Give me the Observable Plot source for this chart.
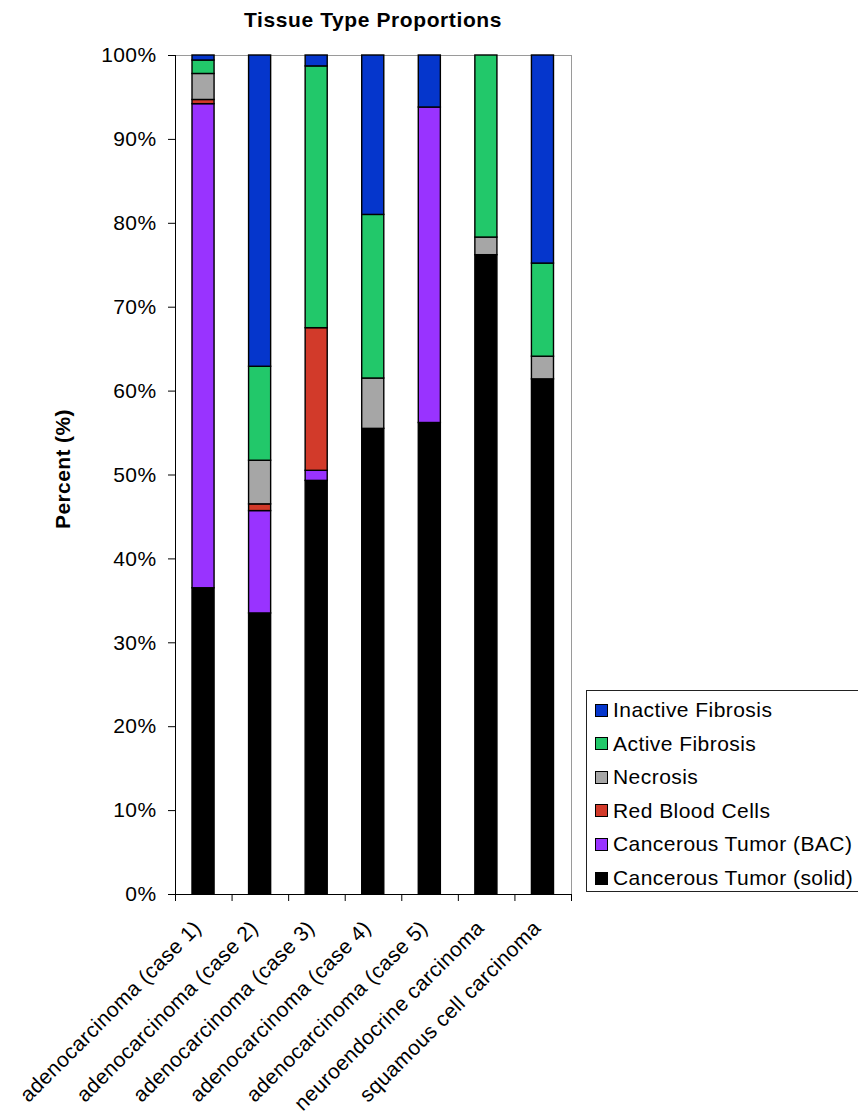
<!DOCTYPE html>
<html>
<head>
<meta charset="utf-8">
<script src="https://cdn.jsdelivr.net/npm/d3@7"></script>
<script src="https://cdn.jsdelivr.net/npm/@observablehq/plot@0.6"></script>
<style>
  html, body { margin: 0; padding: 0; background: #fff; }
  #wrap { position: relative; width: 858px; height: 1114px; font-family: "Liberation Sans", Arial, sans-serif; }
  #title { position: absolute; top: 8px; left: 373px; transform: translateX(-50%); font-weight: bold; font-size: 21px; letter-spacing: 0.6px; white-space: nowrap; color: #000; }
  #legend { position: absolute; left: 586px; top: 690px; width: 272px; height: 202px; box-sizing: border-box; border: 1px solid #222; border-right: none; background: #fff; }
  .li { position: absolute; left: 8px; height: 24px; display: flex; align-items: center; font-size: 21px; letter-spacing: 0.45px; color: #000; white-space: nowrap; }
  .sw { width: 13px; height: 13px; box-sizing: border-box; border: 1px solid #000; margin-right: 5px; }
  svg text { letter-spacing: 0.4px; }
</style>
</head>
<body>
<div id="wrap">
  <div id="title">Tissue Type Proportions</div>
  <div id="chart"></div>
  <div id="legend"></div>
</div>
<script>
const categories = [
  "adenocarcinoma (case 1)",
  "adenocarcinoma (case 2)",
  "adenocarcinoma (case 3)",
  "adenocarcinoma (case 4)",
  "adenocarcinoma (case 5)",
  "neuroendocrine carcinoma",
  "squamous cell carcinoma"
];
const tissues = [
  "Cancerous Tumor (solid)",
  "Cancerous Tumor (BAC)",
  "Red Blood Cells",
  "Necrosis",
  "Active Fibrosis",
  "Inactive Fibrosis"
];
const colors = ["#000000", "#9933FF", "#D23A2A", "#A6A6A6", "#22C86A", "#0536CC"];

const solid    = [36.5, 33.5, 49.3, 55.5, 56.2, 76.2, 61.4];
const bac      = [57.7, 12.2, 1.2, 0, 37.6, 0, 0];
const rbc      = [0.5, 0.8, 17.0, 0, 0, 0, 0];
const necrosis = [3.1, 5.2, 0, 6.0, 0, 2.1, 2.7];
const active   = [1.6, 11.2, 31.2, 19.5, 0, 21.7, 11.1];
const inactive = [0.6, 37.1, 1.3, 19.0, 6.2, 0, 24.8];

const yTicks = [0, 10, 20, 30, 40, 50, 60, 70, 80, 90, 100];

const series = [solid, bac, rbc, necrosis, active, inactive];
const rows = [];
categories.forEach((c, i) => {
  series.forEach((s, k) => {
    if (s[i] > 0) rows.push({idx: i, category: c, tissue: tissues[k], value: s[i]});
  });
});

const chart = Plot.plot({
  width: 858,
  height: 1114,
  marginLeft: 175,
  marginRight: 287,
  marginTop: 55,
  marginBottom: 220,
  style: {fontFamily: "'Liberation Sans', Arial, sans-serif", fontSize: "21px", color: "#000", background: "#fff"},
  x: {domain: [0, categories.length], axis: null},
  y: {domain: [0, 100], axis: null},
  color: {domain: tissues, range: colors},
  marks: [
    Plot.frame({stroke: "#9a9a9a"}),
    Plot.rectY(rows, {
      x1: "idx",
      x2: d => d.idx + 1,
      y: "value",
      fill: "tissue",
      stroke: "#000",
      strokeWidth: 1.4,
      insetLeft: 17,
      insetRight: 17.5
    }),
    Plot.axisY({
      ticks: yTicks,
      tickFormat: d => d + "%",
      tickSize: 7,
      tickPadding: 12,
      fontSize: 21,
      label: null,
      stroke: "#000"
    }),
    Plot.axisX({
      ticks: d3.range(categories.length + 1),
      tickSize: 7,
      tickFormat: () => "",
      label: null,
      stroke: "#000"
    }),
    Plot.axisX({
      ticks: d3.range(categories.length).map(i => i + 0.5),
      tickFormat: v => categories[Math.floor(v)],
      tickSize: 0,
      tickPadding: 30,
      tickRotate: -45,
      dx: -6,
      fontSize: 21,
      label: null
    }),
    Plot.ruleX([0], {stroke: "#000"}),
    Plot.ruleY([0], {stroke: "#000"}),
    Plot.text(["Percent (%)"], {
      frameAnchor: "left",
      textAnchor: "middle",
      dx: -112,
      dy: -6,
      rotate: -90,
      fontWeight: "bold",
      fontSize: 21
    })
  ]
});
document.getElementById("chart").appendChild(chart);

const legend = document.getElementById("legend");
const order = tissues.slice().reverse();
order.forEach((t, j) => {
  const div = document.createElement("div");
  div.className = "li";
  div.style.top = (7 + j * 33.6) + "px";
  const sw = document.createElement("div");
  sw.className = "sw";
  sw.style.background = colors[tissues.indexOf(t)];
  const tx = document.createElement("span");
  tx.textContent = t;
  div.appendChild(sw);
  div.appendChild(tx);
  legend.appendChild(div);
});
</script>
</body>
</html>
